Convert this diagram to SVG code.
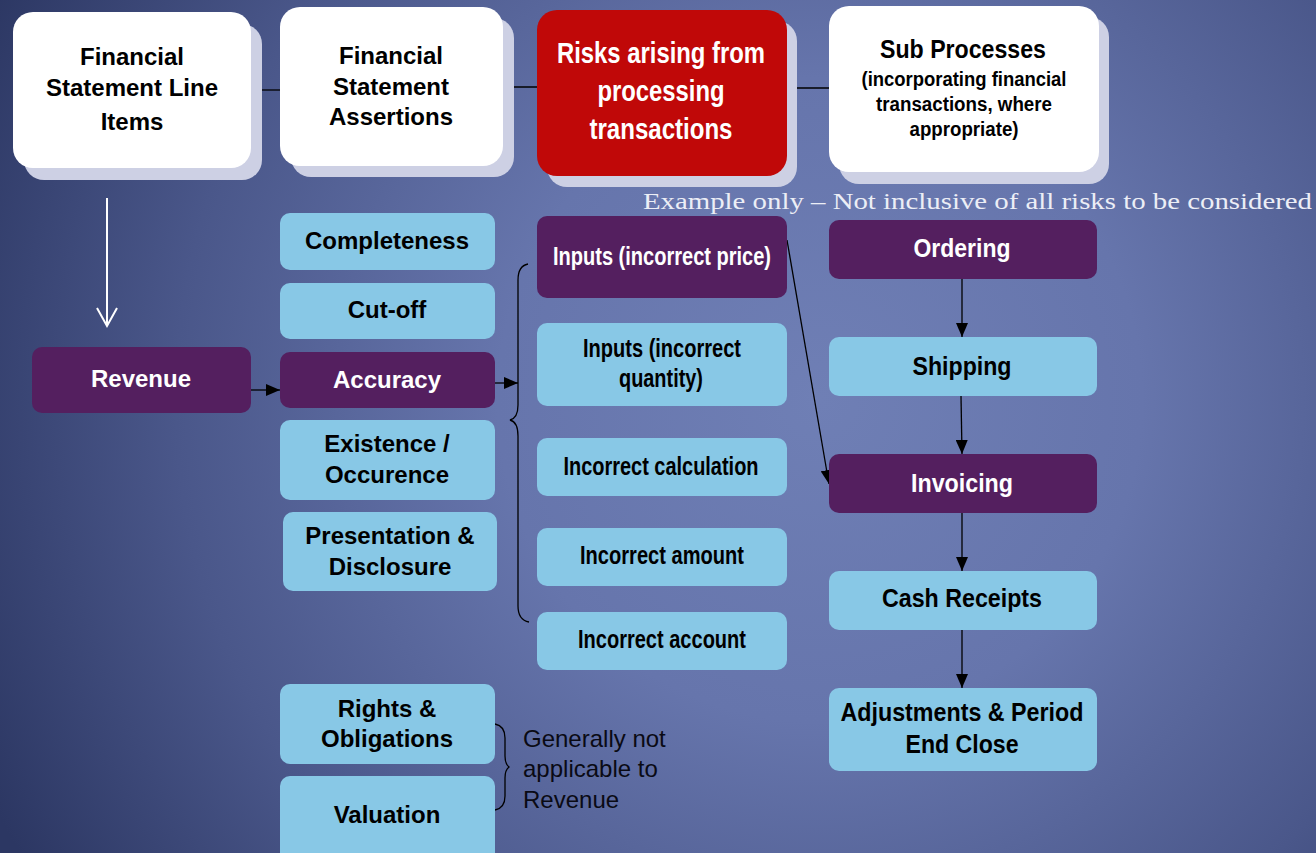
<svg xmlns="http://www.w3.org/2000/svg" width="1316" height="853" viewBox="0 0 1316 853">
<defs>
<radialGradient id="bg" gradientUnits="userSpaceOnUse" cx="820" cy="400" r="920">
<stop offset="0" stop-color="#6f7fb5"/>
<stop offset="0.35" stop-color="#6675ac"/>
<stop offset="0.7" stop-color="#4a578a"/>
<stop offset="1" stop-color="#2c3763"/>
</radialGradient>
<marker id="ah" markerUnits="userSpaceOnUse" markerWidth="14" markerHeight="12" viewBox="0 0 14 12" refX="14" refY="6" orient="auto">
<path d="M0,0 L14,6 L0,12 z" fill="#000"/>
</marker>
<style>
.hdr{fill:#fff}
.shd{fill:#cdd0e4}
.lb{fill:#88c8e6}
.pu{fill:#541f5f}
.red{fill:#c00808}
text{font-family:"Liberation Sans",Arial,sans-serif;text-anchor:middle}
.b{font-weight:bold;font-size:24px;fill:#000}
.n{font-weight:bold;font-size:25px;fill:#000}
text.w{fill:#fff}
.con{stroke:#000;stroke-width:1.3;fill:none}
</style>
</defs>
<rect width="1316" height="853" fill="url(#bg)"/>

<g id="connectors">
<line class="con" x1="251" y1="90" x2="280" y2="90"/>
<line class="con" x1="503" y1="87" x2="537" y2="87"/>
<line class="con" x1="787" y1="88" x2="830" y2="88"/>
<line class="con" x1="251" y1="390" x2="280" y2="390" marker-end="url(#ah)"/>
<line class="con" x1="495" y1="383" x2="518" y2="383" marker-end="url(#ah)"/>
<line class="con" x1="787" y1="240" x2="829" y2="484" marker-end="url(#ah)"/>
<line class="con" x1="962" y1="279" x2="962" y2="337" marker-end="url(#ah)"/>
<line class="con" x1="961" y1="396" x2="962" y2="454" marker-end="url(#ah)"/>
<line class="con" x1="962" y1="513" x2="962" y2="571" marker-end="url(#ah)"/>
<line class="con" x1="962" y1="630" x2="962" y2="688" marker-end="url(#ah)"/>
<g id="white-arrow" stroke="#fff" stroke-width="2" fill="none">
<line x1="107" y1="198" x2="107" y2="325"/>
<polyline points="97,308 107,326 117,308"/>
</g>
<path class="con" d="M528,264 Q518,266 518,280 L518,405 Q518,418 510,420 Q518,422 518,436 L518,606 Q518,620 529,622"/>
<path class="con" d="M495,724 Q505,726 505,738 L505,756 Q505,764 509,767 Q505,770 505,778 L505,796 Q505,808 495,810"/>
</g>

<g id="n-fsli">
<rect class="shd" x="24" y="24" width="238" height="156" rx="20"/>
<rect class="hdr" x="13" y="12" width="238" height="156" rx="20"/>
<text class="b" x="132" y="65">Financial</text>
<text class="b" x="132" y="96">Statement Line</text>
<text class="b" x="132" y="130">Items</text>
</g>
<g id="n-fsa">
<rect class="shd" x="291" y="18" width="223" height="159" rx="20"/>
<rect class="hdr" x="280" y="7" width="223" height="159" rx="20"/>
<text class="b" x="391" y="64">Financial</text>
<text class="b" x="391" y="95">Statement</text>
<text class="b" x="391" y="125">Assertions</text>
</g>
<g id="n-risks">
<rect class="shd" x="547" y="21" width="250" height="166" rx="20"/>
<rect class="red" x="537" y="10" width="250" height="166" rx="20"/>
<text class="n w" style="font-size:29px" x="661" y="63" textLength="208" lengthAdjust="spacingAndGlyphs">Risks arising from</text>
<text class="n w" style="font-size:29px" x="661" y="101" textLength="127" lengthAdjust="spacingAndGlyphs">processing</text>
<text class="n w" style="font-size:29px" x="661" y="139" textLength="143" lengthAdjust="spacingAndGlyphs">transactions</text>
</g>
<g id="n-sub">
<rect class="shd" x="839" y="17" width="270" height="167" rx="20"/>
<rect class="hdr" x="829" y="6" width="270" height="166" rx="20"/>
<text class="n" x="963" y="58" textLength="166" lengthAdjust="spacingAndGlyphs">Sub Processes</text>
<text class="n" style="font-size:20px" x="964" y="86" textLength="205" lengthAdjust="spacingAndGlyphs">(incorporating financial</text>
<text class="n" style="font-size:20px" x="964" y="111" textLength="176" lengthAdjust="spacingAndGlyphs">transactions, where</text>
<text class="n" style="font-size:20px" x="964" y="136" textLength="109" lengthAdjust="spacingAndGlyphs">appropriate)</text>
</g>

<text id="example-note" x="643" y="209" style="font-family:'Liberation Serif','Times New Roman',serif;font-size:24px;text-anchor:start;fill:#eceef6" textLength="669" lengthAdjust="spacingAndGlyphs">Example only – Not inclusive of all risks to be considered</text>

<g id="n-revenue">
<rect class="pu" x="32" y="347" width="219" height="66" rx="10"/>
<text class="b w" x="141" y="387">Revenue</text>
</g>

<g id="n-completeness">
<rect class="lb" x="280" y="213" width="215" height="57" rx="10"/>
<text class="b" x="387" y="249">Completeness</text>
</g>
<g id="n-cutoff">
<rect class="lb" x="280" y="283" width="215" height="56" rx="10"/>
<text class="b" x="387" y="318">Cut-off</text>
</g>
<g id="n-accuracy">
<rect class="pu" x="280" y="352" width="215" height="56" rx="10"/>
<text class="b w" x="387" y="388">Accuracy</text>
</g>
<g id="n-existence">
<rect class="lb" x="280" y="420" width="215" height="80" rx="10"/>
<text class="b" x="387" y="452">Existence /</text>
<text class="b" x="387" y="483">Occurence</text>
</g>
<g id="n-presentation">
<rect class="lb" x="283" y="512" width="214" height="79" rx="10"/>
<text class="b" x="390" y="544">Presentation &amp;</text>
<text class="b" x="390" y="575">Disclosure</text>
</g>
<g id="n-rights">
<rect class="lb" x="280" y="684" width="215" height="80" rx="10"/>
<text class="b" x="387" y="717">Rights &amp;</text>
<text class="b" x="387" y="747">Obligations</text>
</g>
<g id="n-valuation">
<rect class="lb" x="280" y="776" width="215" height="90" rx="10"/>
<text class="b" x="387" y="823">Valuation</text>
</g>

<g id="n-generally">
<text style="font-size:24px;fill:#0a0a14;text-anchor:start" x="523" y="747">Generally not</text>
<text style="font-size:24px;fill:#0a0a14;text-anchor:start" x="523" y="777">applicable to</text>
<text style="font-size:24px;fill:#0a0a14;text-anchor:start" x="523" y="808">Revenue</text>
</g>

<g id="n-price">
<rect class="pu" x="537" y="216" width="250" height="82" rx="10"/>
<text class="n w" x="662" y="265" textLength="218" lengthAdjust="spacingAndGlyphs">Inputs (incorrect price)</text>
</g>
<g id="n-quantity">
<rect class="lb" x="537" y="323" width="250" height="83" rx="10"/>
<text class="n" x="662" y="357" textLength="158" lengthAdjust="spacingAndGlyphs">Inputs (incorrect</text>
<text class="n" x="661" y="387" textLength="84" lengthAdjust="spacingAndGlyphs">quantity)</text>
</g>
<g id="n-calc">
<rect class="lb" x="537" y="438" width="250" height="58" rx="10"/>
<text class="n" x="661" y="475" textLength="195" lengthAdjust="spacingAndGlyphs">Incorrect calculation</text>
</g>
<g id="n-amount">
<rect class="lb" x="537" y="528" width="250" height="58" rx="10"/>
<text class="n" x="662" y="564" textLength="164" lengthAdjust="spacingAndGlyphs">Incorrect amount</text>
</g>
<g id="n-account">
<rect class="lb" x="537" y="612" width="250" height="58" rx="10"/>
<text class="n" x="662" y="648" textLength="168" lengthAdjust="spacingAndGlyphs">Incorrect account</text>
</g>

<g id="n-ordering">
<rect class="pu" x="829" y="220" width="268" height="59" rx="10"/>
<text class="n w" x="962" y="257" textLength="97" lengthAdjust="spacingAndGlyphs">Ordering</text>
</g>
<g id="n-shipping">
<rect class="lb" x="829" y="337" width="268" height="59" rx="10"/>
<text class="n" x="962" y="375" textLength="99" lengthAdjust="spacingAndGlyphs">Shipping</text>
</g>
<g id="n-invoicing">
<rect class="pu" x="829" y="454" width="268" height="59" rx="10"/>
<text class="n w" x="962" y="492" textLength="102" lengthAdjust="spacingAndGlyphs">Invoicing</text>
</g>
<g id="n-cash">
<rect class="lb" x="829" y="571" width="268" height="59" rx="10"/>
<text class="n" x="962" y="607" textLength="160" lengthAdjust="spacingAndGlyphs">Cash Receipts</text>
</g>
<g id="n-adjust">
<rect class="lb" x="829" y="688" width="268" height="83" rx="10"/>
<text class="n" x="962" y="721" textLength="243" lengthAdjust="spacingAndGlyphs">Adjustments &amp; Period</text>
<text class="n" x="962" y="753" textLength="113" lengthAdjust="spacingAndGlyphs">End Close</text>
</g>
</svg>
